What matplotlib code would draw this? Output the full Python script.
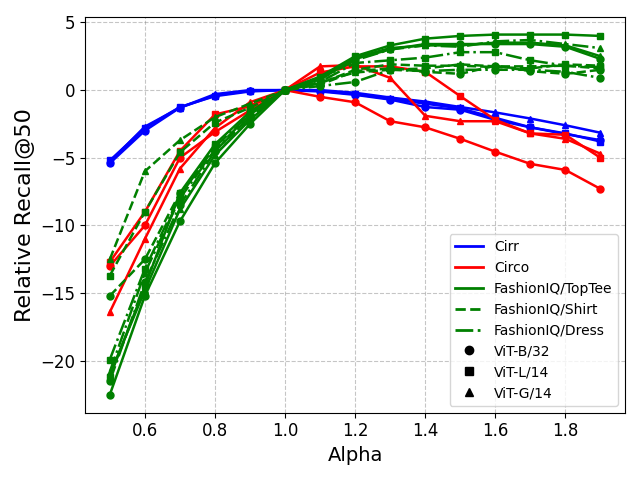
import numpy as np
import matplotlib
matplotlib.use("Agg")
import matplotlib.pyplot as plt
from matplotlib.lines import Line2D

alpha = [0.5, 0.6, 0.7, 0.8, 0.9, 1.0, 1.1, 1.2, 1.3, 1.4, 1.5, 1.6, 1.7, 1.8, 1.9]

# Cirr
cirr_b32 = [-5.4, -3.0, -1.3, -0.4, -0.05, 0, -0.1, -0.35, -0.7, -1.25, -1.45, -2.2, -2.75, -3.25, -3.7]
cirr_l14 = [-5.2, -2.8, -1.25, -0.45, -0.1, 0, -0.05, -0.3, -0.65, -1.0, -1.35, -2.05, -2.75, -3.2, -3.8]
cirr_g14 = [-5.3, -2.7, -1.3, -0.3, 0.0, 0, 0.0, -0.2, -0.55, -0.85, -1.25, -1.65, -2.1, -2.6, -3.15]

# Circo
circo_b32 = [-13.0, -10.0, -5.0, -3.1, -1.5, 0, -0.5, -0.9, -2.3, -2.75, -3.6, -4.55, -5.45, -5.9, -7.3]
circo_l14 = [-12.7, -9.0, -4.5, -1.8, -1.2, 0, 1.3, 1.75, 1.75, 1.35, -0.45, -2.2, -3.2, -3.3, -5.0]
circo_g14 = [-16.4, -11.0, -5.8, -2.8, -0.9, 0, 1.75, 1.85, 0.9, -1.9, -2.3, -2.3, -3.2, -3.6, -4.7]

# FashionIQ / TopTee
toptee_b32 = [-22.5, -15.2, -9.7, -5.4, -2.5, 0, 0.8, 2.3, 3.0, 3.4, 3.4, 3.4, 3.4, 3.2, 2.3]
toptee_l14 = [-21.2, -14.5, -7.6, -4.0, -1.6, 0, 1.0, 2.5, 3.3, 3.8, 4.0, 4.1, 4.1, 4.1, 4.0]
toptee_g14 = [-21.0, -14.8, -8.8, -4.8, -2.2, 0, 0.9, 2.4, 3.1, 3.3, 3.3, 3.5, 3.5, 3.3, 2.5]

# FashionIQ / Shirt
shirt_b32 = [-15.2, -12.5, -7.6, -4.5, -2.0, 0, 0.4, 1.4, 1.6, 1.35, 1.2, 1.8, 1.4, 1.2, 1.5]
shirt_l14 = [-13.7, -9.0, -4.6, -2.4, -1.3, 0, 0.5, 1.5, 1.9, 1.8, 1.8, 1.7, 1.6, 1.9, 1.8]
shirt_g14 = [-12.5, -6.0, -3.7, -2.0, -1.0, 0, 0.6, 1.3, 1.5, 1.6, 1.9, 1.75, 1.75, 1.8, 1.6]

# FashionIQ / Dress
dress_b32 = [-21.5, -14.2, -8.5, -4.5, -2.0, 0, 0.3, 0.6, 1.5, 1.4, 1.5, 1.5, 1.5, 1.35, 0.9]
dress_l14 = [-19.9, -13.2, -7.8, -4.2, -1.8, 0, 0.6, 2.0, 2.2, 2.4, 2.8, 2.8, 2.2, 1.8, 1.7]
dress_g14 = [-20.8, -13.5, -8.0, -4.4, -1.8, 0, 0.8, 2.2, 3.0, 3.3, 3.2, 3.6, 3.7, 3.4, 3.1]

series = [
    (cirr_b32, "blue", "-", "o"), (cirr_l14, "blue", "-", "s"), (cirr_g14, "blue", "-", "^"),
    (circo_b32, "red", "-", "o"), (circo_l14, "red", "-", "s"), (circo_g14, "red", "-", "^"),
    (toptee_b32, "green", "-", "o"), (toptee_l14, "green", "-", "s"), (toptee_g14, "green", "-", "^"),
    (shirt_b32, "green", "--", "o"), (shirt_l14, "green", "--", "s"), (shirt_g14, "green", "--", "^"),
    (dress_b32, "green", "-.", "o"), (dress_l14, "green", "-.", "s"), (dress_g14, "green", "-.", "^"),
]

fig, ax = plt.subplots(figsize=(6.4, 4.8), dpi=100)
for vals, col, ls, mk in series:
    ax.plot(alpha, vals, color=col, linestyle=ls, marker=mk, linewidth=1.8, markersize=5)

ax.grid(True, linestyle="--", color="gray", alpha=0.45)
ax.set_xlabel("Alpha", fontsize=14)
ax.set_ylabel("Relative Recall@50", fontsize=16)
ax.tick_params(labelsize=12)

handles = [
    Line2D([0], [0], color="blue", lw=2, label="Cirr"),
    Line2D([0], [0], color="red", lw=2, label="Circo"),
    Line2D([0], [0], color="green", lw=2, linestyle="-", label="FashionIQ/TopTee"),
    Line2D([0], [0], color="green", lw=2, linestyle="--", label="FashionIQ/Shirt"),
    Line2D([0], [0], color="green", lw=2, linestyle="-.", label="FashionIQ/Dress"),
    Line2D([0], [0], color="black", marker="o", linestyle="None", label="ViT-B/32"),
    Line2D([0], [0], color="black", marker="s", linestyle="None", label="ViT-L/14"),
    Line2D([0], [0], color="black", marker="^", linestyle="None", label="ViT-G/14"),
]
ax.legend(handles=handles, loc="lower right", fontsize=10)

plt.tight_layout()
plt.savefig("out.png")
